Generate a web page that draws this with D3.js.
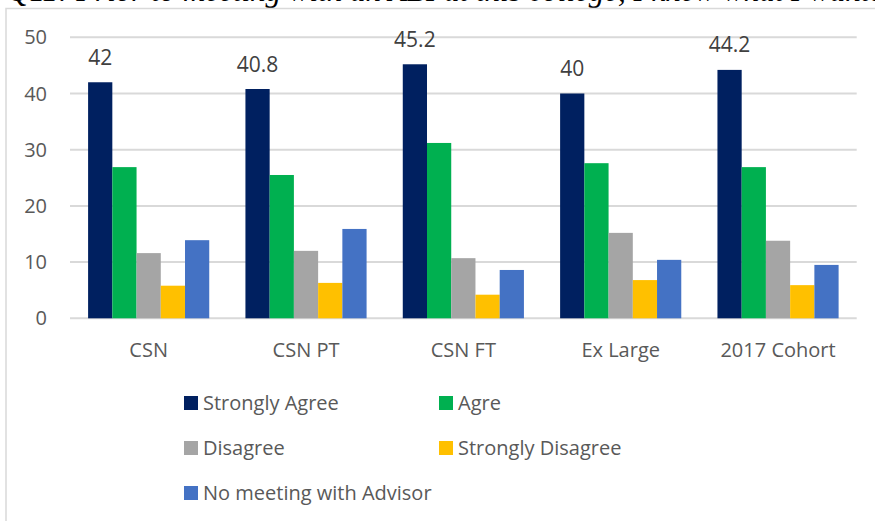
<!DOCTYPE html>
<html>
<meta charset="utf-8">
<style>
body { margin: 0; background: #fff; }
svg { display: block; }
.tick-label, .cat-label, .legend-text {
  font-family: "Open Sans", sans-serif;
  font-size: 20px;
  fill: #595959;
}
.data-label {
  font-family: "Open Sans", sans-serif;
  font-size: 21px;
  fill: #404040;
  text-anchor: middle;
}
.title {
  font-family: "Liberation Serif", serif;
  font-style: italic;
  font-size: 31px;
  fill: #000;
}
</style>
<body>
<script src="https://cdn.jsdelivr.net/npm/d3@7"></script>
<script>

var categories = ["CSN", "CSN PT", "CSN FT", "Ex Large", "2017 Cohort"];
var seriesNames = ["Strongly Agree", "Agre", "Disagree", "Strongly Disagree", "No meeting with Advisor"];
var seriesColors = ["#002060", "#00b050", "#a5a5a5", "#ffc000", "#4472c4"];

var stronglyAgree = [42, 40.8, 45.2, 40, 44.2];
var agree = [26.9, 25.5, 31.2, 27.6, 26.9];
var disagree = [11.6, 12, 10.7, 15.2, 13.8];
var stronglyDisagree = [5.8, 6.3, 4.2, 6.8, 5.9];
var noMeeting = [13.9, 15.9, 8.6, 10.4, 9.5];

var yTicks = [0, 10, 20, 30, 40, 50];

var seriesValues = [stronglyAgree, agree, disagree, stronglyDisagree, noMeeting];

var svg = d3.select("body").append("svg")
    .attr("width", 875)
    .attr("height", 521);

// title, mostly cut off at the top like the source
svg.append("text")
    .attr("class", "title")
    .attr("x", 7)
    .attr("y", 1)
    .text("Q11: Prior to meeting with an ABI at this college, I knew what I wanted to study");

// chart frame
svg.append("path")
    .attr("d", "M6,540 V8.5 H900")
    .attr("fill", "none")
    .attr("stroke", "#d9d9d9")
    .attr("stroke-width", 1.5);

var x0 = d3.scaleBand()
    .domain(categories)
    .range([70, 856.7])
    .paddingInner(0.23)
    .paddingOuter(0.115);

var x1 = d3.scaleBand()
    .domain(seriesNames)
    .range([0, x0.bandwidth()]);

var y = d3.scaleLinear()
    .domain([0, 50])
    .range([318.3, 37.3]);

// gridlines
svg.append("g").selectAll("line")
    .data(yTicks)
    .enter()
    .append("line")
    .attr("x1", 70)
    .attr("x2", 856.7)
    .attr("y1", function(d) { return y(d); })
    .attr("y2", function(d) { return y(d); })
    .attr("stroke", "#d9d9d9")
    .attr("stroke-width", 2);

svg.append("g").selectAll("text")
    .data(yTicks)
    .enter()
    .append("text")
    .attr("class", "tick-label")
    .attr("x", 47)
    .attr("y", function(d) { return y(d); })
    .attr("dy", "0.35em")
    .attr("text-anchor", "end")
    .text(function(d) { return d; });

// bars
var groups = svg.append("g").selectAll("g")
    .data(categories)
    .enter()
    .append("g")
    .attr("transform", function(d) { return "translate(" + x0(d) + ",0)"; });

groups.selectAll("rect")
    .data(function(d, i) {
      return seriesNames.map(function(s, j) {
        return { series: s, value: seriesValues[j][i], color: seriesColors[j] };
      });
    })
    .enter()
    .append("rect")
    .attr("x", function(d) { return x1(d.series); })
    .attr("width", x1.bandwidth())
    .attr("y", function(d) { return y(d.value); })
    .attr("height", function(d) { return y(0) - y(d.value); })
    .attr("fill", function(d) { return d.color; });

// labels on strongly agree only
svg.append("g").selectAll("text")
    .data(categories)
    .enter()
    .append("text")
    .attr("class", "data-label")
    .attr("x", function(d) { return x0(d) + x1(seriesNames[0]) + x1.bandwidth() / 2; })
    .attr("y", function(d, i) { return y(stronglyAgree[i]) - 17.5; })
    .text(function(d, i) { return stronglyAgree[i]; });

// category labels
svg.append("g").selectAll("text")
    .data(categories)
    .enter()
    .append("text")
    .attr("class", "cat-label")
    .attr("x", function(d) { return x0(d) + x0.bandwidth() / 2; })
    .attr("y", 357)
    .attr("text-anchor", "middle")
    .text(function(d) { return d; });

// legend
var legendPos = [[184, 403], [439, 403], [184, 448], [439, 448], [184, 493]];

var legend = svg.append("g").selectAll("g")
    .data(seriesNames)
    .enter()
    .append("g")
    .attr("transform", function(d, i) { return "translate(" + legendPos[i][0] + "," + legendPos[i][1] + ")"; });

legend.append("rect")
    .attr("x", 0)
    .attr("y", -7)
    .attr("width", 14)
    .attr("height", 14)
    .attr("fill", function(d, i) { return seriesColors[i]; });

legend.append("text")
    .attr("class", "legend-text")
    .attr("x", 19)
    .attr("y", 0)
    .attr("dy", "0.35em")
    .text(function(d) { return d; });

</script>
</body>
</html>
